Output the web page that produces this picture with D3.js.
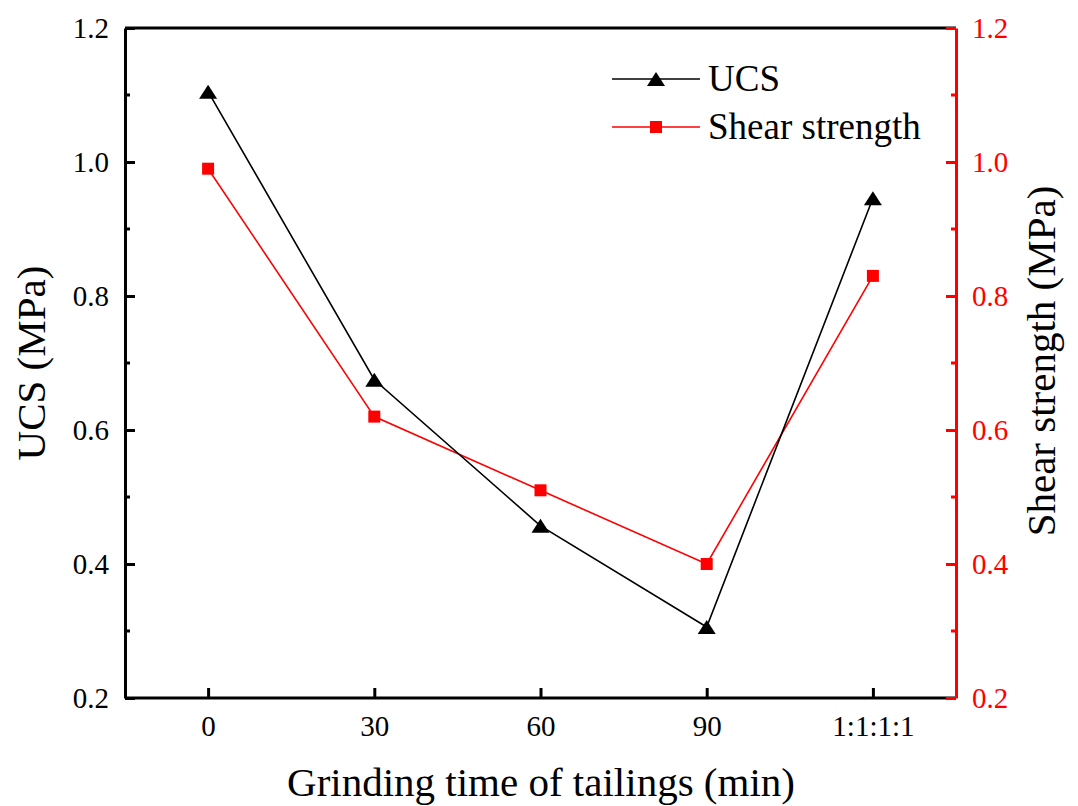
<!DOCTYPE html>
<html lang="en">
<head>
<meta charset="UTF-8">
<title>UCS and shear strength</title>
<script src="https://d3js.org/d3.v7.min.js"></script>
<style>
  body { margin: 0; background: #fff; }
  svg text { font-family: "Liberation Serif", "Times New Roman", serif !important; }
</style>
</head>
<body>
<svg id="chart" width="1078" height="806"></svg>
<script>
// data
const categories = ["0", "30", "60", "90", "1:1:1:1"];
const ucs = [1.105, 0.675, 0.457, 0.306, 0.946];
const shear = [0.99, 0.62, 0.51, 0.40, 0.83];
const yTicks = [0.2, 0.4, 0.6, 0.8, 1.0, 1.2];

const svg = d3.select("#chart");
const mLeft = 125, mRight = 956, mTop = 28, mBottom = 698;
const serif = "'Liberation Serif', 'Times New Roman', serif";

const x = d3.scalePoint().domain(categories).range([mLeft, mRight]).padding(0.5);
const yL = d3.scaleLinear().domain([0.2, 1.2]).range([mBottom, mTop]);
const yR = d3.scaleLinear().domain([0.2, 1.2]).range([mBottom, mTop]);

// minor ticks halfway between majors
const minor = d3.range(0.3, 1.2, 0.2);

// top frame line
svg.append("line").attr("x1", mLeft).attr("x2", mRight).attr("y1", mTop).attr("y2", mTop)
  .attr("stroke", "black").attr("stroke-width", 3);

// bottom axis
const xAxis = svg.append("g").attr("transform", `translate(0,${mBottom})`)
  .call(d3.axisBottom(x).tickSize(-10).tickPadding(17).tickSizeOuter(0));
xAxis.select(".domain").attr("stroke-width", 3).attr("d", `M${mLeft},0H${mRight}`);
xAxis.selectAll(".tick line").attr("stroke-width", 3);

// left axis
const lAxis = svg.append("g").attr("transform", `translate(${mLeft},0)`)
  .call(d3.axisLeft(yL).tickValues(yTicks).tickFormat(d3.format(".1f")).tickSize(-10).tickPadding(16).tickSizeOuter(0));
lAxis.select(".domain").attr("stroke-width", 3);
lAxis.selectAll(".tick line").attr("stroke-width", 3);
lAxis.selectAll(".minor").data(minor).join("line")
  .attr("x1", 0).attr("x2", 5).attr("y1", d => yL(d)).attr("y2", d => yL(d))
  .attr("stroke", "black").attr("stroke-width", 3);

// right axis (red)
const rAxis = svg.append("g").attr("transform", `translate(${mRight},0)`)
  .call(d3.axisRight(yR).tickValues(yTicks).tickFormat(d3.format(".1f")).tickSize(-10).tickPadding(16).tickSizeOuter(0));
rAxis.select(".domain").attr("stroke", "red").attr("stroke-width", 3);
rAxis.selectAll(".tick line").attr("stroke", "red").attr("stroke-width", 3);
rAxis.selectAll(".minor").data(minor).join("line")
  .attr("x1", 0).attr("x2", -5).attr("y1", d => yR(d)).attr("y2", d => yR(d))
  .attr("stroke", "red").attr("stroke-width", 3);

[xAxis, lAxis, rAxis].forEach(a => a.attr("font-family", serif).attr("font-size", 29));
xAxis.selectAll("text").style("font-size", "29px").attr("fill", "black");
lAxis.selectAll("text").style("font-size", "29px").attr("fill", "black");
rAxis.selectAll("text").style("font-size", "29px").attr("fill", "red");

// axis titles
svg.append("text").attr("x", 541).attr("y", 796).attr("text-anchor", "middle")
  .style("font-size", "41px").text("Grinding time of tailings (min)");
svg.append("text").attr("transform", "translate(45,363) rotate(-90)").attr("text-anchor", "middle")
  .style("font-size", "41px").text("UCS (MPa)");
svg.append("text").attr("transform", "translate(1055,361) rotate(-90)").attr("text-anchor", "middle")
  .style("font-size", "41px").text("Shear strength (MPa)");

// lines
const line = (scale) => d3.line().x((d, i) => x(categories[i])).y(d => scale(d));
svg.append("path").datum(shear).attr("d", line(yR))
  .attr("fill", "none").attr("stroke", "red").attr("stroke-width", 1.6);
svg.append("path").datum(ucs).attr("d", line(yL))
  .attr("fill", "none").attr("stroke", "black").attr("stroke-width", 1.6);

// flat up-triangle, 18 wide and 14 tall, centred on the point
const triangle = { draw(ctx) { ctx.moveTo(0, -7); ctx.lineTo(9, 7); ctx.lineTo(-9, 7); ctx.closePath(); } };
const tri = d3.symbol().type(triangle);
svg.selectAll(".sq").data(shear).join("rect")
  .attr("x", (d, i) => x(categories[i]) - 6).attr("y", d => yR(d) - 6)
  .attr("width", 12).attr("height", 12).attr("fill", "red");
svg.selectAll(".tri").data(ucs).join("path")
  .attr("d", tri).attr("transform", (d, i) => `translate(${x(categories[i])},${yL(d)})`)
  .attr("fill", "black");

// legend
const legend = [
  { name: "UCS", color: "black", shape: "tri" },
  { name: "Shear strength", color: "red", shape: "sq" }
];
const lg = svg.append("g").attr("transform", "translate(612,79)");
legend.forEach((d, i) => {
  const g = lg.append("g").attr("transform", `translate(0,${i * 48})`);
  g.append("line").attr("x1", 0).attr("x2", 88).attr("stroke", d.color).attr("stroke-width", 1.6);
  if (d.shape === "tri") {
    g.append("path").attr("d", tri).attr("transform", "translate(44,0)").attr("fill", d.color);
  } else {
    g.append("rect").attr("x", 38).attr("y", -6).attr("width", 12).attr("height", 12).attr("fill", d.color);
  }
  g.append("text").attr("x", 96).attr("y", 12).style("font-size", "37px").text(d.name);
});
</script>
</body>
</html>
